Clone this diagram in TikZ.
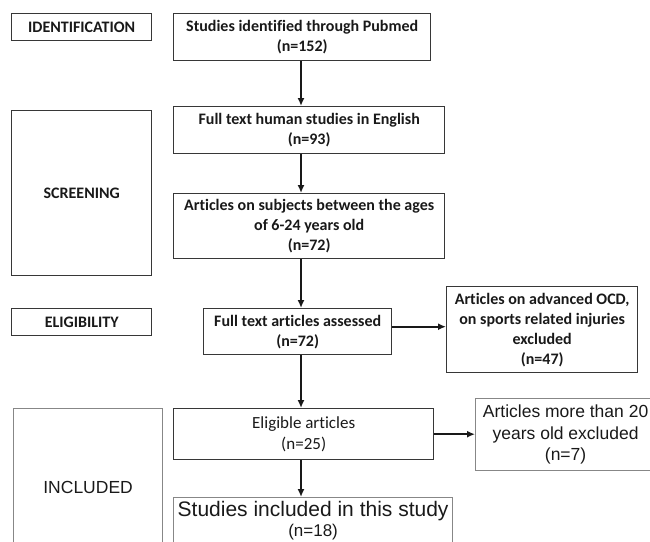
\documentclass[tikz,border=0pt]{standalone}
\usepackage{fontspec}
\setmainfont{Carlito}[Ligatures=NoCommon]
\newfontfamily\arialfont{Liberation Sans}
\usetikzlibrary{arrows.meta,positioning}
\definecolor{BoxGray}{RGB}{55,55,55}
\definecolor{SoftGray}{RGB}{135,135,135}
\definecolor{InkBlack}{RGB}{25,25,25}
\newcommand{\flowarrow}[2]{%
  \draw[-{Latex[length=8pt,width=7pt]},line width=1.8pt,InkBlack] (#1)--(#2);}

\begin{document}
\begin{tikzpicture}[x=1pt,y=-1pt,
  stage/.style={draw=BoxGray,line width=1.4pt,text=InkBlack,inner sep=0pt,
    minimum width=140pt,font=\bfseries\fontsize{16}{20}\selectfont},
  calbox/.style={draw=BoxGray,line width=1.4pt,text=InkBlack,inner sep=0pt,
    align=center,font=\bfseries\fontsize{16}{20}\selectfont},
  arialbox/.style={draw=SoftGray,line width=1.2pt,text=InkBlack,inner sep=0pt,
    align=center,font=\arialfont\fontsize{17.5}{21.5}\selectfont}]
  \useasboundingbox (0,0) rectangle (650,541);
  \coordinate (spine) at (301,0);
  % stage labels
  \node[stage,minimum height=27pt,anchor=north west] (identify) at (11,13) {IDENTIFICATION};
  \node[stage,minimum height=165pt,anchor=north west] (screen) at (11,110) {SCREENING};
  \node[stage,minimum height=27pt,anchor=north west] (eligible) at (11,308) {ELIGIBILITY};
  \node[arialbox,minimum width=149pt,minimum height=158pt,anchor=north west] (include) at (13,408) {INCLUDED};
  % main flow
  \node[calbox,minimum width=257pt,minimum height=47pt,anchor=north west] (pubmed) at (173,13)
    {Studies identified through Pubmed\\(n=152)};
  \node[calbox,minimum width=271pt,minimum height=47pt,anchor=north west] (english) at (173,106)
    {Full text human studies in English\\(n=93)};
  \node[calbox,minimum width=271pt,minimum height=65pt,anchor=north west] (ages) at (173,193)
    {Articles on subjects between the ages\\of 6-24 years old\\(n=72)};
  \node[calbox,minimum width=188pt,minimum height=46pt,anchor=north west] (assessed) at (203,308)
    {Full text articles assessed\\(n=72)};
  \node[calbox,minimum width=260pt,minimum height=51pt,anchor=north west,
    font=\fontsize{17}{21}\selectfont] (eligart) at (173,408)
    {Eligible articles\\(n=25)};
  \node[arialbox,minimum width=279pt,minimum height=46pt,anchor=north west,
    font=\arialfont\fontsize{17}{20}\selectfont] (studies) at (173,497)
    {{\fontsize{21}{22}\selectfont Studies included in this study}\\(n=18)};
  % exclusions
  \node[calbox,minimum width=191pt,minimum height=86pt,anchor=north west] (ocd) at (446,286)
    {Articles on advanced OCD,\\on sports related injuries\\excluded\\(n=47)};
  \node[arialbox,minimum width=180pt,minimum height=72pt,anchor=north west] (older) at (475,398)
    {Articles more than 20\\years old excluded\\(n=7)};
  % arrows
  \flowarrow{pubmed.south -| spine}{english.north -| spine}
  \flowarrow{english.south -| spine}{ages.north -| spine}
  \flowarrow{ages.south -| spine}{assessed.north -| spine}
  \flowarrow{assessed.south -| spine}{eligart.north -| spine}
  \flowarrow{eligart.south -| spine}{studies.north -| spine}
  \flowarrow{[yshift=5pt]assessed.east}{[yshift=5pt]assessed.east -| ocd.west}
  \flowarrow{eligart.east}{older.west |- eligart.east}
\end{tikzpicture}
\end{document}
